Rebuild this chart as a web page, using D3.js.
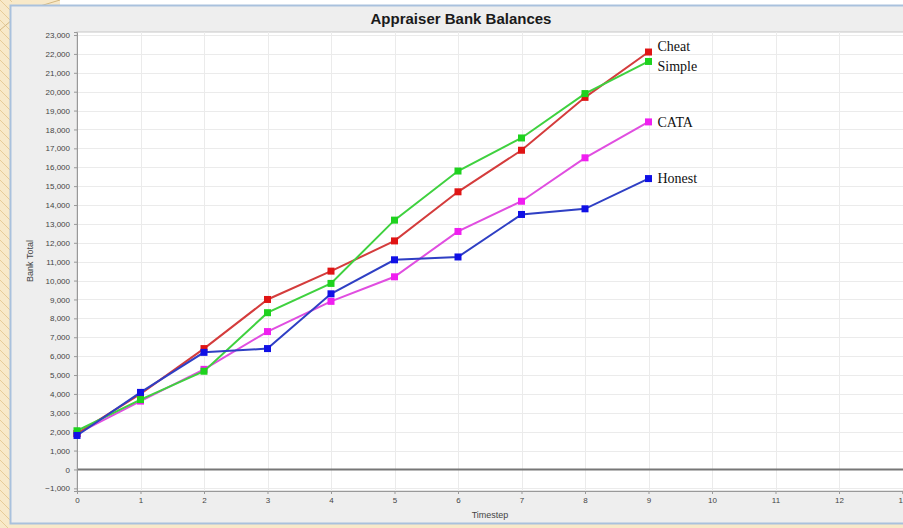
<!DOCTYPE html>
<html><head><meta charset="utf-8">
<script src="https://cdn.jsdelivr.net/npm/d3@7"></script>
<style>html,body{margin:0;padding:0;background:#fff;overflow:hidden}</style>
</head><body>
<svg id="chart" width="903" height="528"></svg>
<script>
const timesteps = [0,1,2,3,4,5,6,7,8,9];
const cheat  = [1900, 4000, 6400, 9000, 10500, 12100, 14700, 16900, 19700, 22100];
const simple = [2050, 3700, 5200, 8300, 9850, 13200, 15800, 17550, 19900, 21600];
const cata   = [1900, 3620, 5300, 7300, 8900, 10200, 12600, 14200, 16500, 18400];
const honest = [1800, 4080, 6200, 6400, 9300, 11100, 11250, 13500, 13800, 15400];
const seriesNames = ["CATA", "Cheat", "Simple", "Honest"];
const xTicks = [0,1,2,3,4,5,6,7,8,9,10,11,12,13];
const yTicks = d3.range(-1000, 23001, 1000);
const title = "Appraiser Bank Balances";
const xTitle = "Timestep";
const yTitle = "Bank Total";

const seriesData = {CATA: cata, Cheat: cheat, Simple: simple, Honest: honest};
const lineColor = {Cheat:"#d43c3c", Simple:"#3fd13f", CATA:"#e04ee0", Honest:"#2f3fc4"};
const markColor = {Cheat:"#e01414", Simple:"#1ed21e", CATA:"#f01ef0", Honest:"#1010e6"};
const labelNudge = {Cheat:-6, Simple:5, CATA:0, Honest:0};

const svg = d3.select("#chart");
// background decoration
svg.append("rect").attr("x",0).attr("y",0).attr("width",903).attr("height",528).attr("fill","#f8e9c9");
svg.append("rect").attr("x",60).attr("y",0).attr("width",843).attr("height",5).attr("fill","#ffffff");
const pat = svg.append("g").attr("stroke","#e6cc98").attr("stroke-width",1).attr("fill","none");
for (let i=-4;i<60;i++){ pat.append("path").attr("d",`M0,${i*10} L12,${i*10+12}`); }
pat.append("path").attr("d","M0,30 Q20,10 60,0").attr("stroke","#d4b882");
// panel
svg.append("rect").attr("x",10.5).attr("y",5.5).attr("width",910).attr("height",518).attr("fill","#eeeeee").attr("stroke","#a9c1dd").attr("stroke-width",2);

const m = {left:77, right:903, top:32, bottom:491};
const x = d3.scaleLinear().domain([0,13]).range([m.left, 902.5]);
const y = d3.scaleLinear().domain([-1140, 23160]).range([m.bottom, m.top]);

svg.append("rect").attr("x",m.left).attr("y",m.top).attr("width",m.right-m.left+5).attr("height",m.bottom-m.top).attr("fill","#ffffff").attr("stroke","#c8c8c8");

// grid
const grid = svg.append("g");
grid.selectAll("line.h").data(yTicks).join("line").attr("x1",m.left).attr("x2",m.right+5)
  .attr("y1",d=>Math.round(y(d))+0.5).attr("y2",d=>Math.round(y(d))+0.5).attr("stroke","#ebebeb").attr("stroke-width",1);
grid.selectAll("line.v").data(xTicks).join("line").attr("y1",m.top).attr("y2",m.bottom)
  .attr("x1",d=>Math.round(x(d))+0.5).attr("x2",d=>Math.round(x(d))+0.5).attr("stroke","#ebebeb").attr("stroke-width",1);
// zero line
svg.append("line").attr("x1",m.left).attr("x2",m.right+5).attr("y1",y(0)).attr("y2",y(0)).attr("stroke","#777").attr("stroke-width",2);

// axes
const yAxis = svg.append("g").attr("transform",`translate(${m.left},0)`)
  .call(d3.axisLeft(y).tickValues(yTicks).tickFormat(d3.format(",")).tickSize(3).tickPadding(4));
const xAxis = svg.append("g").attr("transform",`translate(0,${m.bottom})`)
  .call(d3.axisBottom(x).tickValues(xTicks).tickFormat(d3.format("d")).tickSize(3).tickPadding(3));
[yAxis,xAxis].forEach(a=>{
  a.selectAll("path.domain").attr("stroke","#999");
  a.selectAll(".tick line").attr("stroke","#999");
  a.selectAll("text").attr("fill","#444").style("font-family","Arial, 'Liberation Sans', sans-serif").style("font-size","8px");
});

// series
const line = d3.line().x((d,i)=>x(timesteps[i])).y(d=>y(d));
seriesNames.forEach(name=>{
  const vals = seriesData[name];
  const g = svg.append("g");
  g.append("path").datum(vals).attr("d",line).attr("fill","none").attr("stroke",lineColor[name]).attr("stroke-width",2);
  g.selectAll("rect").data(vals).join("rect")
    .attr("x",(d,i)=>x(timesteps[i])-3.5).attr("y",d=>y(d)-3.5).attr("width",7).attr("height",7)
    .attr("fill",markColor[name]);
  const last = vals[vals.length-1];
  svg.append("text").attr("x",x(timesteps[timesteps.length-1])+9).attr("y",y(last)+labelNudge[name]).attr("dy","0.35em")
    .text(name).style("font-family","'Liberation Serif','Times New Roman',serif").style("font-size","14px").attr("fill","#111");
});

// titles
svg.append("text").attr("x",461).attr("y",24).attr("text-anchor","middle").text(title)
  .style("font-family","Arial, 'Liberation Sans', sans-serif").style("font-size","15px").style("font-weight","bold").attr("fill","#1a1a1a");
svg.append("text").attr("x",490).attr("y",518).attr("text-anchor","middle").text(xTitle)
  .style("font-family","Arial, 'Liberation Sans', sans-serif").style("font-size","9px").attr("fill","#444");
svg.append("text").attr("transform","translate(33,261) rotate(-90)").attr("text-anchor","middle").text(yTitle)
  .style("font-family","Arial, 'Liberation Sans', sans-serif").style("font-size","9px").attr("fill","#444");
</script>
</body></html>
